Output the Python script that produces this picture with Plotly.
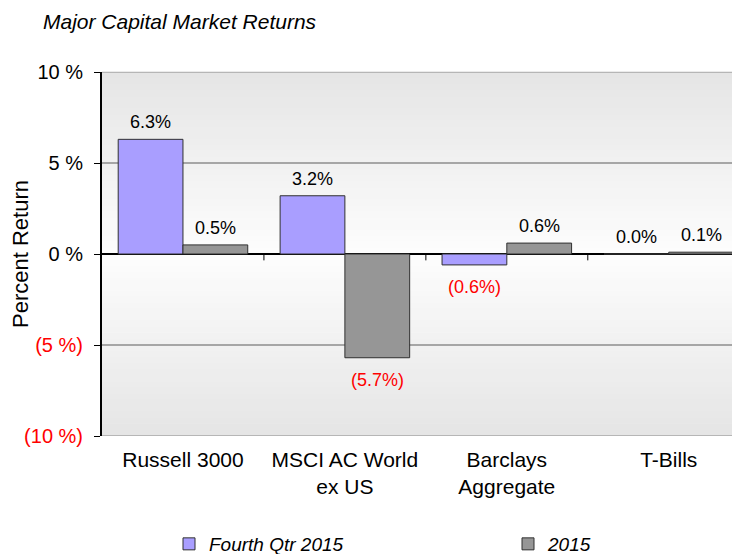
import plotly.graph_objects as go

categories = ["Russell 3000", "MSCI AC World<br>ex US", "Barclays<br>Aggregate", "T-Bills"]
q4_2015 = [6.3, 3.2, -0.6, 0.0]
y2015 = [0.5, -5.7, 0.6, 0.1]
series_names = ["Fourth Qtr 2015", "2015"]
tick_vals = [10, 5, 0, -5, -10]
tick_labels = ["10 %", "5 %", "0 %", "(5 %)", "(10 %)"]

FONT = "Liberation Sans, Arial, sans-serif"
PURPLE = "#a99eff"
GRAY = "#969696"

# the page body has an 8px margin, so the figure is sized/positioned to compensate
W, H = 732, 546
ML, MT, MB = 94, 64, 118

fig = go.Figure()
x_idx = list(range(len(categories)))
fig.add_trace(go.Bar(x=x_idx, y=q4_2015, name="<i>" + series_names[0] + "</i>", legend="legend",
                     marker=dict(color=PURPLE, line=dict(color="#303030", width=1)), hoverinfo="skip"))
fig.add_trace(go.Bar(x=x_idx, y=y2015, name="<i>" + series_names[1] + "</i>", legend="legend2",
                     marker=dict(color=GRAY, line=dict(color="#303030", width=1)), hoverinfo="skip"))

def fmt(v):
    return f"({abs(v):.1f}%)" if v < 0 else f"{v:.1f}%"

annotations = []
for series, off in ((q4_2015, -0.2), (y2015, 0.2)):
    for i, v in enumerate(series):
        annotations.append(dict(
            x=i + off, y=v, xref="x", yref="y", text=fmt(v), showarrow=False,
            yanchor="middle", yshift=(17 if v >= 0 else -22),
            font=dict(family=FONT, size=18, color=("#ff0000" if v < 0 else "#000000"))))

# background gradient (light gray at edges, white near centre)
shapes = []
n = 60
for k in range(n):
    t = (k + 0.5) / n
    d = abs(t - 0.5) * 2
    c = int(round(253 - (253 - 229) * d))
    col = f"rgb({c},{c},{c})"
    shapes.append(dict(type="rect", xref="paper", yref="paper", x0=0, x1=1, y0=k / n, y1=(k + 1) / n + 0.002,
                       fillcolor=col, line=dict(width=0), layer="below"))
# category boundary ticks on the zero line
for i in range(len(categories) - 1):
    shapes.append(dict(type="line", xref="x", yref="y", x0=i + 0.5, x1=i + 0.5, y0=0, y1=-0.35,
                       line=dict(color="#000000", width=1)))
# top and bottom border lines
for yv in (10, -10):
    shapes.append(dict(type="line", xref="paper", yref="y", x0=0, x1=1, y0=yv, y1=yv,
                       line=dict(color="#a6a6a6", width=1.5)))

ticktext = [f"<span style='color:#ff0000'>{t}</span>" if v < 0 else t for v, t in zip(tick_vals, tick_labels)]

plot_h = H - MT - MB
leg_y = -(536 - (H - MB)) / plot_h
leg_common = dict(orientation="h", xanchor="left", y=leg_y, yanchor="middle", itemwidth=30,
                  font=dict(family=FONT, size=19, color="#000000"), bgcolor="rgba(0,0,0,0)")

fig.update_layout(
    width=W, height=H,
    margin=dict(l=ML, r=0, t=MT, b=MB, autoexpand=False),
    paper_bgcolor="white", plot_bgcolor="rgba(0,0,0,0)",
    barmode="group", bargap=0.2, bargroupgap=0,
    font=dict(family=FONT, color="#000000"),
    title=dict(text="<i>Major Capital Market Returns</i>", x=35 / W, xanchor="left", xref="container",
               y=1 - 14 / H, yanchor="middle", yref="container",
               font=dict(family=FONT, size=21, color="#000000")),
    xaxis=dict(tickmode="array", tickvals=x_idx, ticktext=categories, range=[-0.5, 3.44],
               showgrid=False, zeroline=False, showline=False, ticks="", ticklabelstandoff=9,
               tickfont=dict(family=FONT, size=21, color="#000000"), fixedrange=True),
    yaxis=dict(range=[-10, 10], tickmode="array", tickvals=tick_vals, ticktext=ticktext,
               showgrid=True, gridcolor="#a6a6a6", gridwidth=1.5,
               zeroline=True, zerolinecolor="#000000", zerolinewidth=2,
               showline=True, linecolor="#000000", linewidth=2,
               ticks="outside", ticklen=6, tickcolor="#000000", ticklabelstandoff=7,
               tickfont=dict(family=FONT, size=20, color="#000000"),
               title=dict(text="Percent Return", font=dict(family=FONT, size=22, color="#000000"), standoff=9),
               fixedrange=True),
    legend=dict(x=(161 - ML) / (W - ML), **leg_common),
    legend2=dict(x=(500 - ML) / (W - ML), **leg_common),
    annotations=annotations,
    shapes=shapes,
    showlegend=True,
)

fig.write_html("out.html")
